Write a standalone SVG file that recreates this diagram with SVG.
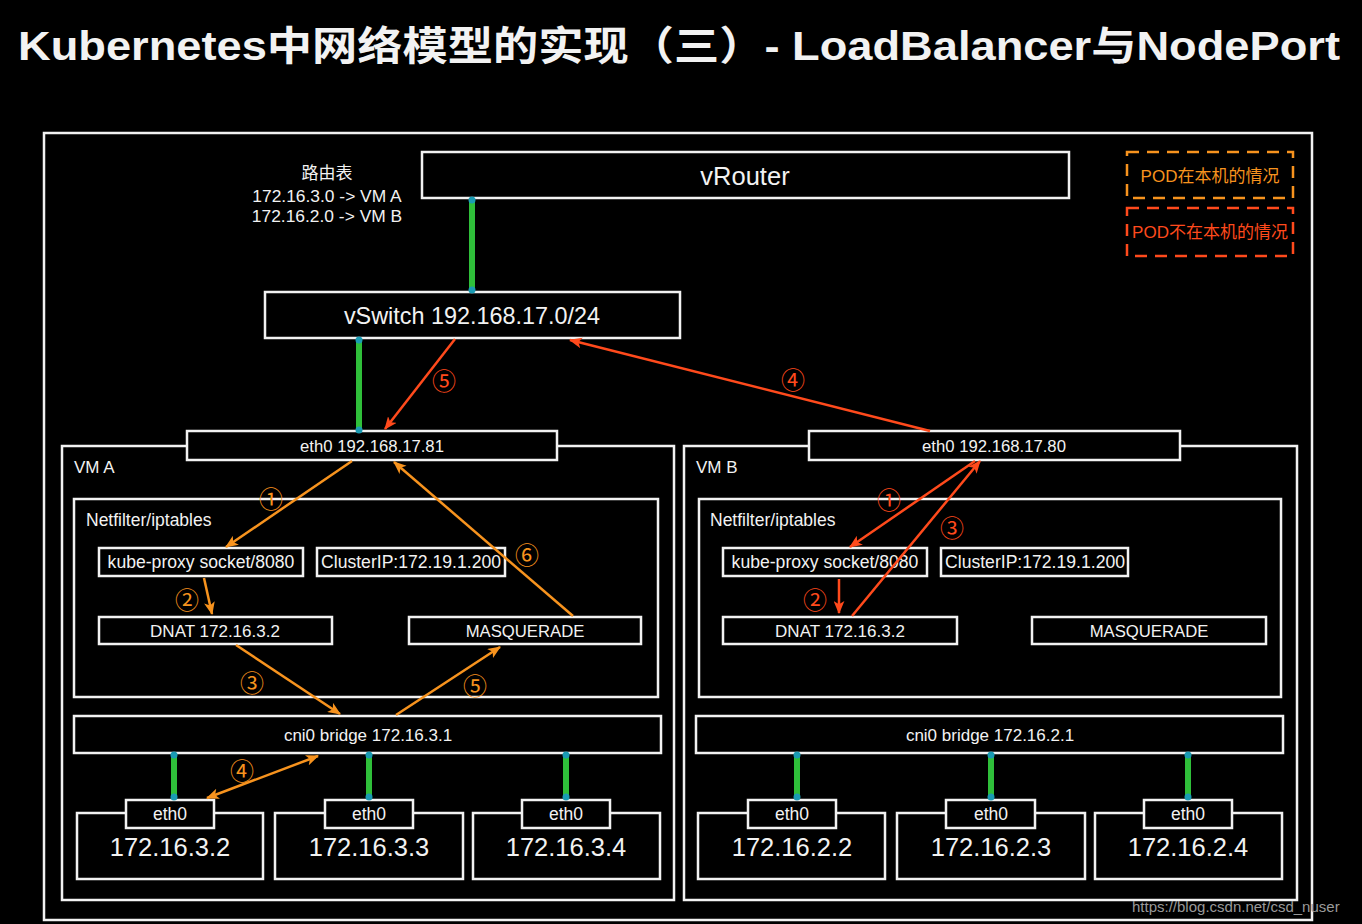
<svg xmlns="http://www.w3.org/2000/svg" width="1362" height="924" viewBox="0 0 1362 924">
<style>
.bg{fill:#000}
.box{fill:#000;stroke:#f2f2f2;stroke-width:2.5}
.t{font-family:"Liberation Sans","Noto Sans CJK SC",sans-serif;fill:#f2f2f2;text-anchor:middle;dominant-baseline:central}
.tl{font-family:"Liberation Sans","Noto Sans CJK SC",sans-serif;fill:#f2f2f2}
.link{stroke:#2fbf3a;stroke-width:6}
.dot{fill:#1a9bb3}
.ao{stroke:#f7931e;stroke-width:2.5;fill:none}
.ar{stroke:#ff4a1c;stroke-width:2.5;fill:none}
.no{font-family:"Noto Sans CJK SC","DejaVu Sans",sans-serif;fill:#f7931e;font-size:24px;text-anchor:middle;dominant-baseline:central}
.nr{font-family:"Noto Sans CJK SC","DejaVu Sans",sans-serif;fill:#ff4a1c;font-size:24px;text-anchor:middle;dominant-baseline:central}
</style>
<defs>
<marker id="mo" viewBox="0 0 12 10" refX="11" refY="5" markerWidth="13" markerHeight="11" markerUnits="userSpaceOnUse" orient="auto-start-reverse"><path d="M0,0 L12,5 L0,10 L3,5 Z" fill="#f7931e"/></marker>
<marker id="mr" viewBox="0 0 12 10" refX="11" refY="5" markerWidth="13" markerHeight="11" markerUnits="userSpaceOnUse" orient="auto-start-reverse"><path d="M0,0 L12,5 L0,10 L3,5 Z" fill="#ff4a1c"/></marker>
</defs>
<rect class="bg" x="0" y="0" width="1362" height="924"/>
<text class="tl" x="18" y="60" font-size="40" font-weight="bold" textLength="1322" lengthAdjust="spacingAndGlyphs">Kubernetes中网络模型的实现（三）- LoadBalancer与NodePort</text>

<rect id="frame" x="44" y="133" width="1268" height="787" fill="none" stroke="#f2f2f2" stroke-width="2.5"/>

<g id="routing-table">
<text class="t" x="327" y="173" font-size="17">路由表</text>
<text class="t" x="327" y="196" font-size="17.4">172.16.3.0 -&gt; VM A</text>
<text class="t" x="327" y="216" font-size="17.4">172.16.2.0 -&gt; VM B</text>
</g>

<g id="legend">
<rect x="1127" y="152" width="166" height="46" fill="none" stroke="#f7931e" stroke-width="2.5" stroke-dasharray="12,8"/>
<text class="t" x="1210" y="176" font-size="17" style="fill:#f7931e">POD在本机的情况</text>
<rect x="1127" y="208" width="166" height="48" fill="none" stroke="#ff4a1c" stroke-width="2.5" stroke-dasharray="12,8"/>
<text class="t" x="1210" y="232" font-size="17" style="fill:#ff4a1c">POD不在本机的情况</text>
</g>

<g id="vRouter"><rect class="box" x="422" y="152" width="647" height="46"/><text class="t" x="745" y="176" font-size="25.5">vRouter</text></g>
<g id="vSwitch"><rect class="box" x="265" y="292" width="415" height="46"/><text class="t" x="472" y="316" font-size="23.4">vSwitch 192.168.17.0/24</text></g>

<g id="vmA">
<rect class="box" x="62" y="446" width="612" height="454"/>
<text class="tl" x="74" y="473" font-size="17">VM A</text>
</g>
<g id="vmB">
<rect class="box" x="684" y="446" width="613" height="454"/>
<text class="tl" x="696" y="473" font-size="17">VM B</text>
</g>

<g id="eth0-A"><rect class="box" x="187" y="431" width="370" height="29"/><text class="t" x="372" y="446" font-size="16.7">eth0 192.168.17.81</text></g>
<g id="eth0-B"><rect class="box" x="809" y="431" width="371" height="29"/><text class="t" x="994" y="446" font-size="16.7">eth0 192.168.17.80</text></g>

<g id="netfilter-A">
<rect class="box" x="74" y="499" width="584" height="198"/>
<text class="tl" x="86" y="526" font-size="17.5">Netfilter/iptables</text>
</g>
<g id="kubeproxy-A"><rect class="box" x="99" y="548" width="204" height="28"/><text class="t" x="201" y="562" font-size="17.6">kube-proxy socket/8080</text></g>
<g id="clusterip-A"><rect class="box" x="317" y="548" width="188" height="28"/><text class="t" x="411" y="562" font-size="17.6">ClusterIP:172.19.1.200</text></g>
<g id="dnat-A"><rect class="box" x="99" y="617" width="233" height="27"/><text class="t" x="215" y="631" font-size="17">DNAT 172.16.3.2</text></g>
<g id="masq-A"><rect class="box" x="409" y="617" width="232" height="27"/><text class="t" x="525" y="631" font-size="16.7">MASQUERADE</text></g>

<g id="netfilter-B">
<rect class="box" x="699" y="499" width="582" height="198"/>
<text class="tl" x="710" y="526" font-size="17.5">Netfilter/iptables</text>
</g>
<g id="kubeproxy-B"><rect class="box" x="723" y="548" width="204" height="28"/><text class="t" x="825" y="562" font-size="17.6">kube-proxy socket/8080</text></g>
<g id="clusterip-B"><rect class="box" x="941" y="548" width="187" height="28"/><text class="t" x="1035" y="562" font-size="17.6">ClusterIP:172.19.1.200</text></g>
<g id="dnat-B"><rect class="box" x="723" y="617" width="234" height="27"/><text class="t" x="840" y="631" font-size="17">DNAT 172.16.3.2</text></g>
<g id="masq-B"><rect class="box" x="1032" y="617" width="234" height="27"/><text class="t" x="1149" y="631" font-size="16.7">MASQUERADE</text></g>

<g id="cni0-A"><rect class="box" x="74" y="716" width="587" height="37"/><text class="t" x="368" y="735" font-size="17">cni0 bridge 172.16.3.1</text></g>
<g id="cni0-B"><rect class="box" x="696" y="716" width="587" height="37"/><text class="t" x="990" y="735" font-size="17">cni0 bridge 172.16.2.1</text></g>

<g id="pod-A1"><rect class="box" x="77" y="813" width="186" height="66"/><rect class="box" x="126" y="800" width="88" height="28"/><text class="t" x="170" y="814" font-size="17.5">eth0</text><text class="t" x="170" y="847" font-size="25.5">172.16.3.2</text></g>
<g id="pod-A2"><rect class="box" x="275" y="813" width="188" height="66"/><rect class="box" x="325" y="800" width="88" height="28"/><text class="t" x="369" y="814" font-size="17.5">eth0</text><text class="t" x="369" y="847" font-size="25.5">172.16.3.3</text></g>
<g id="pod-A3"><rect class="box" x="473" y="813" width="187" height="66"/><rect class="box" x="522" y="800" width="88" height="28"/><text class="t" x="566" y="814" font-size="17.5">eth0</text><text class="t" x="566" y="847" font-size="25.5">172.16.3.4</text></g>
<g id="pod-B1"><rect class="box" x="698" y="813" width="187" height="66"/><rect class="box" x="748" y="800" width="88" height="28"/><text class="t" x="792" y="814" font-size="17.5">eth0</text><text class="t" x="792" y="847" font-size="25.5">172.16.2.2</text></g>
<g id="pod-B2"><rect class="box" x="897" y="813" width="188" height="66"/><rect class="box" x="946" y="800" width="89" height="28"/><text class="t" x="991" y="814" font-size="17.5">eth0</text><text class="t" x="991" y="847" font-size="25.5">172.16.2.3</text></g>
<g id="pod-B3"><rect class="box" x="1095" y="813" width="187" height="66"/><rect class="box" x="1144" y="800" width="88" height="28"/><text class="t" x="1188" y="814" font-size="17.5">eth0</text><text class="t" x="1188" y="847" font-size="25.5">172.16.2.4</text></g>

<g id="connectors">
<line class="link" x1="472" y1="200" x2="472" y2="290"/><circle class="dot" cx="472" cy="200" r="3.5"/><circle class="dot" cx="472" cy="290" r="3.5"/>
<line class="link" x1="359" y1="340" x2="359" y2="430"/><circle class="dot" cx="359" cy="340" r="3.5"/><circle class="dot" cx="359" cy="430" r="3.5"/>
<line class="link" x1="174" y1="755" x2="174" y2="797"/><circle class="dot" cx="174" cy="755" r="3.5"/><circle class="dot" cx="174" cy="797" r="3.5"/>
<line class="link" x1="369" y1="755" x2="369" y2="797"/><circle class="dot" cx="369" cy="755" r="3.5"/><circle class="dot" cx="369" cy="797" r="3.5"/>
<line class="link" x1="566" y1="755" x2="566" y2="797"/><circle class="dot" cx="566" cy="755" r="3.5"/><circle class="dot" cx="566" cy="797" r="3.5"/>
<line class="link" x1="797" y1="755" x2="797" y2="797"/><circle class="dot" cx="797" cy="755" r="3.5"/><circle class="dot" cx="797" cy="797" r="3.5"/>
<line class="link" x1="991" y1="755" x2="991" y2="797"/><circle class="dot" cx="991" cy="755" r="3.5"/><circle class="dot" cx="991" cy="797" r="3.5"/>
<line class="link" x1="1188" y1="755" x2="1188" y2="797"/><circle class="dot" cx="1188" cy="755" r="3.5"/><circle class="dot" cx="1188" cy="797" r="3.5"/>

<line class="ao" x1="352" y1="461" x2="226" y2="547" marker-end="url(#mo)"/>
<line class="ao" x1="204" y1="578" x2="212" y2="614" marker-end="url(#mo)"/>
<line class="ao" x1="236" y1="645" x2="340" y2="714" marker-end="url(#mo)"/>
<line class="ao" x1="318" y1="756" x2="207" y2="798" marker-start="url(#mo)" marker-end="url(#mo)"/>
<line class="ao" x1="396" y1="715" x2="500" y2="647" marker-end="url(#mo)"/>
<line class="ao" x1="573" y1="616" x2="394" y2="462" marker-end="url(#mo)"/>

<line class="ar" x1="455" y1="339" x2="385" y2="429" marker-end="url(#mr)"/>
<line class="ar" x1="930" y1="431" x2="570" y2="340" marker-end="url(#mr)"/>
<line class="ar" x1="975" y1="461" x2="850" y2="547" marker-end="url(#mr)"/>
<line class="ar" x1="839" y1="579" x2="839" y2="613" marker-end="url(#mr)"/>
<line class="ar" x1="852" y1="616" x2="980" y2="461" marker-end="url(#mr)"/>

<text class="no" x="271" y="497">①</text>
<text class="no" x="187" y="598">②</text>
<text class="no" x="252" y="681">③</text>
<text class="no" x="242" y="769">④</text>
<text class="no" x="475" y="684">⑤</text>
<text class="no" x="527" y="553">⑥</text>
<text class="nr" x="444" y="379">⑤</text>
<text class="nr" x="793" y="378">④</text>
<text class="nr" x="889" y="498">①</text>
<text class="nr" x="815" y="598">②</text>
<text class="nr" x="952" y="526">③</text>
</g>

<text id="watermark" x="1132" y="912" font-family="Liberation Sans, sans-serif" font-size="15" fill="#9a9a9a">https://blog.csdn.net/csd_nuser</text>
</svg>
